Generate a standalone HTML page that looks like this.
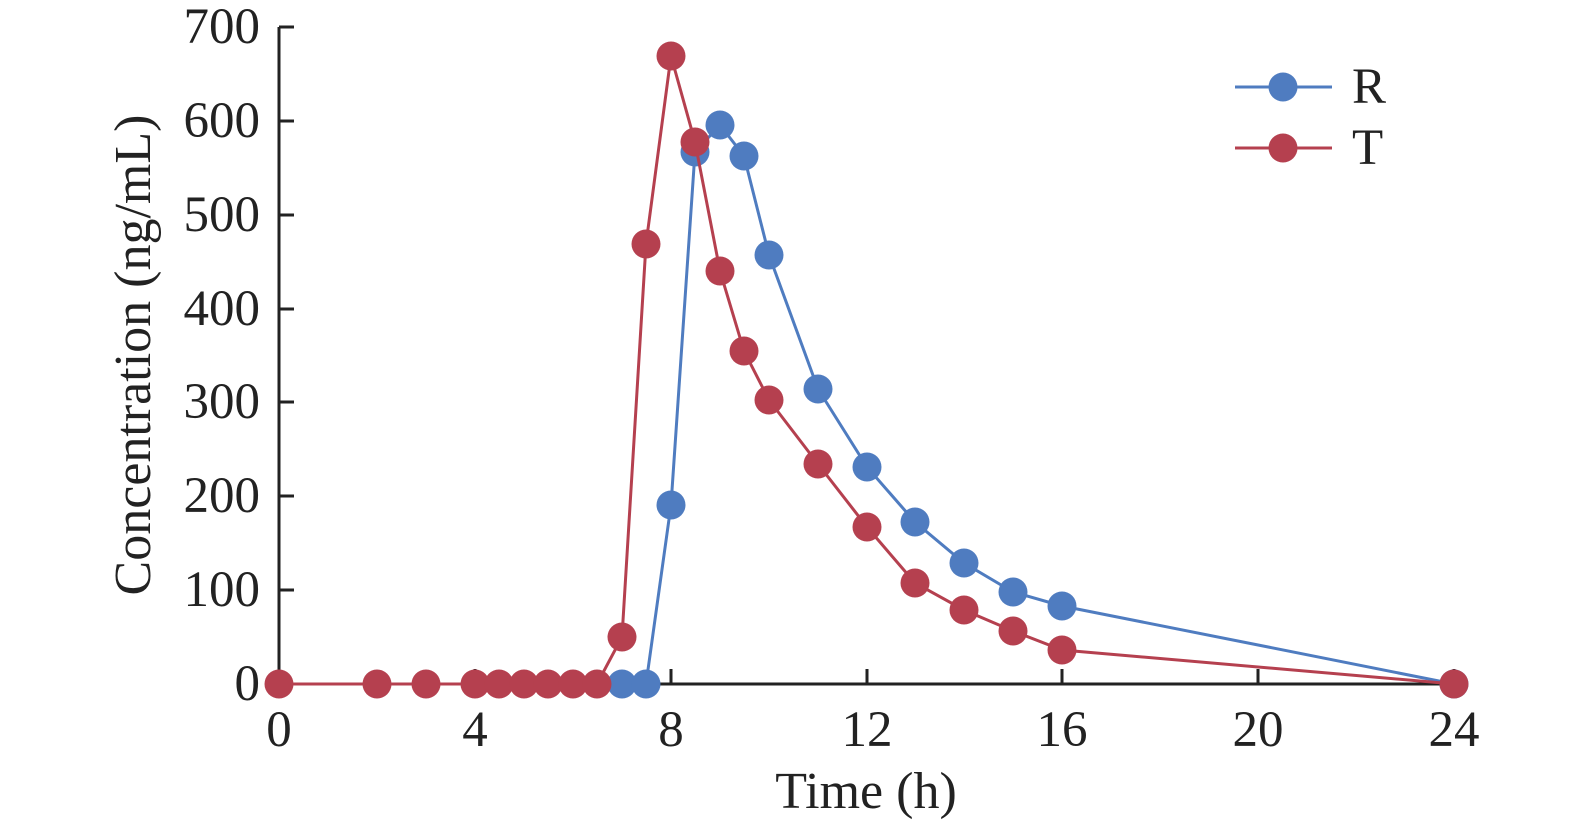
<!DOCTYPE html>
<html><head><style>body{margin:0;background:#fff}svg{display:block}text{font-family:"Liberation Serif",serif;fill:#222}</style></head><body>
<svg width="1575" height="829" viewBox="0 0 1575 829">
<g stroke="#222" stroke-width="3" fill="none">
<path d="M279,27V684H1456"/>
<path d="M279,27h15M279,121h15M279,215h15M279,309h15M279,402h15M279,496h15M279,590h15"/>
<path d="M475,684v-15M671,684v-15M867,684v-15M1062,684v-15M1258,684v-15M1454,684v-15"/>
</g>
<g font-size="51" text-anchor="end">
<text x="260" y="700">0</text><text x="260" y="606">100</text><text x="260" y="512">200</text><text x="260" y="418">300</text><text x="260" y="325">400</text><text x="260" y="231">500</text><text x="260" y="137">600</text><text x="260" y="43">700</text>
</g>
<g font-size="51" text-anchor="middle">
<text x="279" y="746">0</text><text x="475" y="746">4</text><text x="671" y="746">8</text><text x="867" y="746">12</text><text x="1062" y="746">16</text><text x="1258" y="746">20</text><text x="1454" y="746">24</text>
<text x="866" y="808" font-size="52">Time (h)</text>
<text transform="translate(150,355) rotate(-90)" font-size="52">Concentration (ng/mL)</text>
</g>
<g fill="#4f7cc0" stroke="#4f7cc0">
<polyline fill="none" stroke-width="3" points="622,684 646,684 671,505 695,152 720,125 744,156 769,255 818,389 867,467 915,522 964,563 1013,592 1062,606 1454,684"/>
<g stroke="none">
<circle cx="622" cy="684" r="14.5"/><circle cx="646" cy="684" r="14.5"/><circle cx="671" cy="505" r="14.5"/><circle cx="695" cy="152" r="14.5"/><circle cx="720" cy="125" r="14.5"/><circle cx="744" cy="156" r="14.5"/><circle cx="769" cy="255" r="14.5"/><circle cx="818" cy="389" r="14.5"/><circle cx="867" cy="467" r="14.5"/><circle cx="915" cy="522" r="14.5"/><circle cx="964" cy="563" r="14.5"/><circle cx="1013" cy="592" r="14.5"/><circle cx="1062" cy="606" r="14.5"/><circle cx="1454" cy="684" r="14.5"/>
</g></g>
<g fill="#b5404f" stroke="#b5404f">
<polyline fill="none" stroke-width="3" points="279,684 377,684 426,684 475,684 499,684 524,684 548,684 573,684 597,684 622,637 646,244 671,56 695,142 720,271 744,351 769,400 818,464 867,527 915,583 964,610 1013,631 1062,650 1454,684"/>
<g stroke="none">
<circle cx="279" cy="684" r="14.5"/><circle cx="377" cy="684" r="14.5"/><circle cx="426" cy="684" r="14.5"/><circle cx="475" cy="684" r="14.5"/><circle cx="499" cy="684" r="14.5"/><circle cx="524" cy="684" r="14.5"/><circle cx="548" cy="684" r="14.5"/><circle cx="573" cy="684" r="14.5"/><circle cx="597" cy="684" r="14.5"/><circle cx="622" cy="637" r="14.5"/><circle cx="646" cy="244" r="14.5"/><circle cx="671" cy="56" r="14.5"/><circle cx="695" cy="142" r="14.5"/><circle cx="720" cy="271" r="14.5"/><circle cx="744" cy="351" r="14.5"/><circle cx="769" cy="400" r="14.5"/><circle cx="818" cy="464" r="14.5"/><circle cx="867" cy="527" r="14.5"/><circle cx="915" cy="583" r="14.5"/><circle cx="964" cy="610" r="14.5"/><circle cx="1013" cy="631" r="14.5"/><circle cx="1062" cy="650" r="14.5"/><circle cx="1454" cy="684" r="14.5"/>
</g></g>
<line x1="1235" y1="87" x2="1332" y2="87" stroke="#4f7cc0" stroke-width="3"/><circle cx="1283" cy="87" r="14.5" fill="#4f7cc0"/>
<line x1="1235" y1="148" x2="1332" y2="148" stroke="#b5404f" stroke-width="3"/><circle cx="1283" cy="148" r="14.5" fill="#b5404f"/>
<text x="1352" y="103" font-size="51">R</text><text x="1352" y="164" font-size="51">T</text>
</svg>
</body></html>
